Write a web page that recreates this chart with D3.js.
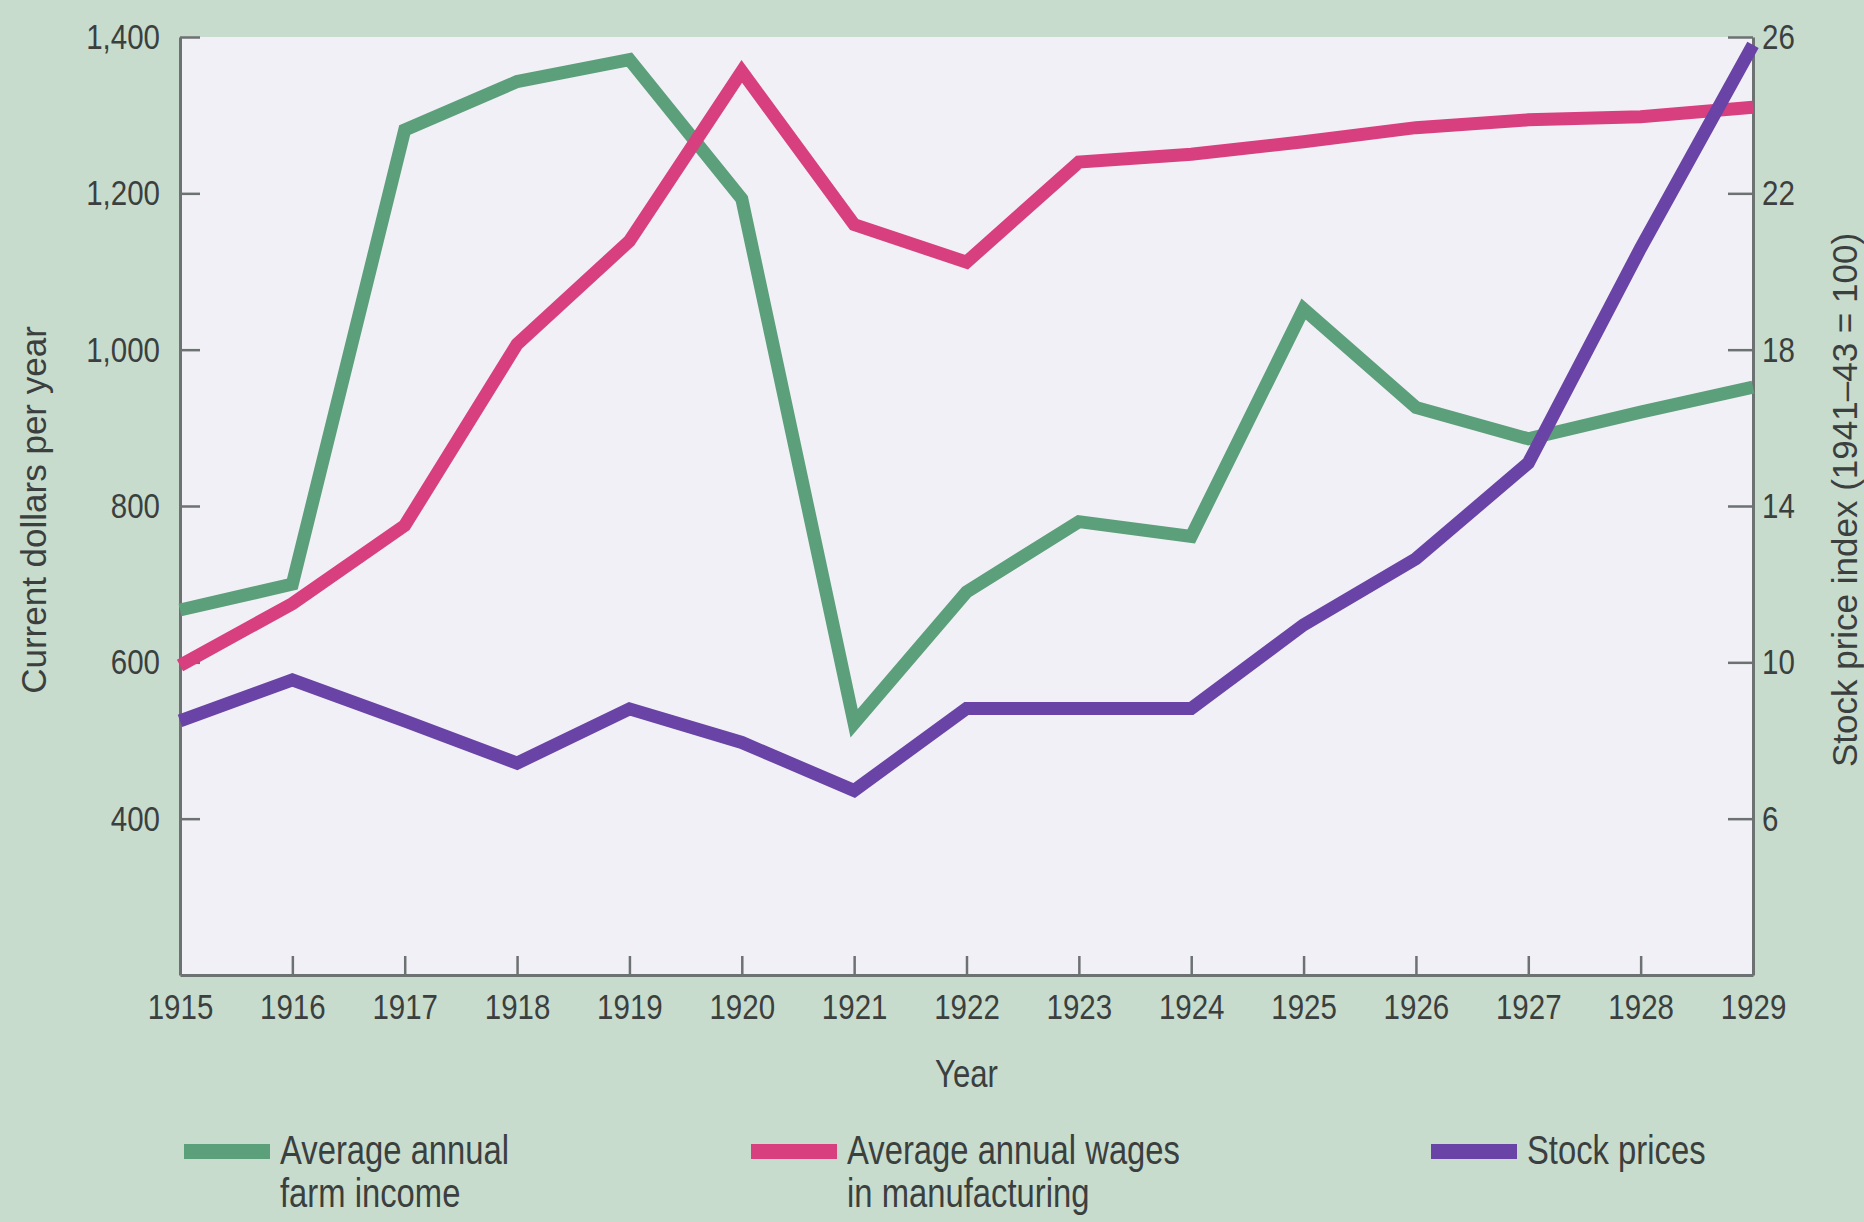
<!DOCTYPE html>
<html>
<head>
<meta charset="utf-8">
<script src="https://cdn.jsdelivr.net/npm/d3@7"></script>
<style>
  html, body { margin: 0; padding: 0; background: #c8dcce; }
  svg { display: block; }
  .tick text { font-family: "Liberation Sans", Arial, sans-serif; font-size: 36px; fill: #3b3f3e; }
</style>
</head>
<body>
<svg id="chart" width="1864" height="1222"></svg>
<script>
// ---- data ----
const years = [1915,1916,1917,1918,1919,1920,1921,1922,1923,1924,1925,1926,1927,1928,1929];
const farmIncome = [667,700,1281,1343,1371,1193,522,690,780,761,1052,926,886,920,952];
const mfgWages   = [596,675,775,1007,1139,1356,1160,1112,1240,1250,1266,1284,1294,1298,1310];
const stockPrices = [8.5,9.55,8.5,7.42,8.81,7.95,6.72,8.82,8.82,8.82,10.96,12.65,15.1,20.6,25.8];
const leftTicks = [400,600,800,1000,1200,1400];
const rightTicks = [6,10,14,18,22,26];
const seriesNames = [["Average annual","farm income"],["Average annual wages","in manufacturing"],["Stock prices"]];
const seriesColors = ["#5c9f7b","#d83f7f","#6a43a6"];
const leftTitle = "Current dollars per year";
const rightTitle = "Stock price index (1941\u201343 = 100)";
const xTitle = "Year";

// ---- layout ----
const L = 180, R = 1753, T = 37, B = 975;
const K = 0.82; // horizontal condensing of the narrow type
const svg = d3.select("#chart");
svg.append("rect").attr("width",1864).attr("height",1222).attr("fill","#c8dcce");

const x = d3.scaleLinear().domain([1915,1929]).range([L,R]);
const yL = d3.scaleLinear().domain([200,1400]).range([B,T]);
const yR = d3.scaleLinear().domain([2,26]).range([B,T]);

svg.append("rect").attr("x",L).attr("y",T).attr("width",R-L).attr("height",B-T).attr("fill","#f1f0f6");

const axisColor = "#6c7171";
function styleAxis(g){
  g.select(".domain").attr("stroke",axisColor).attr("stroke-width",3);
  g.selectAll(".tick line").attr("stroke",axisColor).attr("stroke-width",2.5);
  g.selectAll(".tick text").each(function(){
    const t = d3.select(this);
    const xv = +(t.attr("x") || 0);
    t.attr("x", xv / K).attr("transform", `scale(${K},1)`);
  });
}

svg.append("g").attr("transform",`translate(${L},0)`)
  .call(d3.axisLeft(yL).tickValues(leftTicks).tickFormat(d3.format(",")).tickSize(-20).tickSizeOuter(0).tickPadding(20))
  .call(styleAxis);

svg.append("g").attr("transform",`translate(${R},0)`)
  .call(d3.axisRight(yR).tickValues(rightTicks).tickSize(-25).tickSizeOuter(0).tickPadding(9))
  .call(styleAxis);

svg.append("g").attr("transform",`translate(0,${B})`)
  .call(d3.axisBottom(x).tickValues(years).tickFormat(d3.format("d")).tickSize(-19).tickSizeOuter(0).tickPadding(18))
  .call(styleAxis);

// ---- lines ----
const lineL = d3.line().x((d,i)=>x(years[i])).y(d=>yL(d));
const lineR = d3.line().x((d,i)=>x(years[i])).y(d=>yR(d));
const paths = [[farmIncome,lineL],[mfgWages,lineL],[stockPrices,lineR]];
paths.forEach(([vals,gen],i)=>{
  svg.append("path").datum(vals).attr("d",gen)
    .attr("fill","none").attr("stroke",seriesColors[i]).attr("stroke-width",13)
    .attr("stroke-linejoin","miter").attr("stroke-miterlimit",3);
});

// ---- titles ----
const textColor = "#3b3f3e";
svg.append("text").attr("transform",`translate(${(L+R)/2},1087) scale(${K},1)`).attr("text-anchor","middle")
  .style("font-family",'"Liberation Sans", Arial, sans-serif').style("font-size","38px")
  .attr("fill",textColor).text(xTitle);

svg.append("text").attr("transform","translate(46,510) rotate(-90)").attr("text-anchor","middle")
  .style("font-family",'"Liberation Sans", Arial, sans-serif').style("font-size","35px")
  .attr("fill",textColor).text(leftTitle);

svg.append("text").attr("transform","translate(1857,500) rotate(-90)").attr("text-anchor","middle")
  .style("font-family",'"Liberation Sans", Arial, sans-serif').style("font-size","35px")
  .attr("fill",textColor).text(rightTitle);

// ---- legend ----
const legendX = [184, 751, 1431];
seriesNames.forEach((lines,i)=>{
  const g = svg.append("g").attr("transform",`translate(${legendX[i]},0)`);
  g.append("rect").attr("x",0).attr("y",1144).attr("width",86).attr("height",15).attr("fill",seriesColors[i]);
  const t = g.append("text").attr("transform",`translate(96,0) scale(${K},1)`)
    .style("font-family",'"Liberation Sans", Arial, sans-serif').style("font-size","40px")
    .attr("fill",textColor);
  lines.forEach((ln,j)=>{
    t.append("tspan").attr("x",0).attr("y",1164+j*43).text(ln);
  });
});
</script>
</body>
</html>
